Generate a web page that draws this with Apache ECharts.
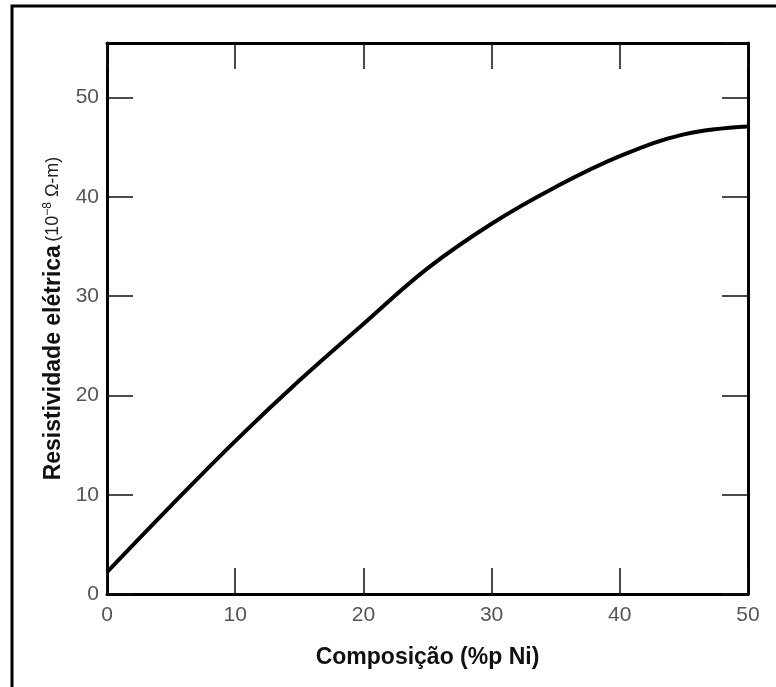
<!DOCTYPE html>
<html lang="pt">
<head>
    <meta http-equiv="content-type" content="text/html; charset=utf-8" />
    <script type="text/javascript" src="https://cdn.jsdelivr.net/npm/echarts@6/dist/echarts.min.js"></script>
    <title>Resistividade elétrica x Composição</title>
    <style>
        html, body { margin: 0; padding: 0; background: #fff; }
        #chart { width: 776px; height: 687px; }
    </style>
</head>
<body>
<div id="chart"></div>
<script type="text/javascript">
    // composição (%p Ni) e resistividade (10^-8 ohm-m)
    var composicao = [0, 5, 10, 15, 20, 25, 30, 35, 40, 45, 50];
    var resistividade = [2.2, 8.9, 15.4, 21.5, 27.2, 32.8, 37.3, 41.0, 44.1, 46.3, 47.1];

    var pontos = [];
    for (var i = 0; i < composicao.length; i++) {
        pontos.push([composicao[i], resistividade[i]]);
    }

    var fonte = '"Liberation Sans", Arial, sans-serif';
    var linhaEixo = { show: true, onZero: false, lineStyle: { color: '#000', width: 3 } };
    var marca = { show: true, inside: true, length: 26, lineStyle: { color: '#111', width: 1.5 } };
    var rotulo = { color: '#555', fontSize: 21, fontFamily: fonte };

    var chart = echarts.init(document.getElementById('chart'));
    chart.setOption({
        animation: false,
        backgroundColor: '#fff',
        grid: { left: 107, top: 43, right: 28, bottom: 93 },
        graphic: [{
            type: 'rect',
            shape: { x: 12, y: 6, width: 800, height: 800 },
            style: { fill: 'none', stroke: '#000', lineWidth: 3 }
        }],
        xAxis: [{
            type: 'value', min: 0, max: 50, interval: 10,
            axisLine: linhaEixo, axisTick: marca, splitLine: { show: false },
            axisLabel: Object.assign({ margin: 11 }, rotulo),
            name: 'Composição (%p Ni)', nameLocation: 'middle', nameGap: 52,
            nameTextStyle: { color: '#111', fontSize: 23, fontWeight: 'bold', fontFamily: fonte }
        }, {
            type: 'value', position: 'top', min: 0, max: 50, interval: 10,
            axisLine: linhaEixo, axisTick: marca, splitLine: { show: false },
            axisLabel: { show: false }
        }],
        yAxis: [{
            type: 'value', min: 0, max: 55.5, interval: 10,
            axisLine: linhaEixo, axisTick: marca, splitLine: { show: false },
            axisLabel: Object.assign({ margin: 8, showMaxLabel: false }, rotulo),
            name: '{b|Resistividade elétrica} {s|(10}{e|−8}{s| Ω-m)}',
            nameLocation: 'middle', nameGap: 41, nameRotate: 90,
            nameTextStyle: {
                rich: {
                    b: { color: '#111', fontSize: 23, fontWeight: 'bold', fontFamily: fonte },
                    s: { color: '#222', fontSize: 18, fontFamily: fonte },
                    e: { color: '#222', fontSize: 12, fontFamily: fonte, verticalAlign: 'top', padding: [0, 0, 8, 0] }
                }
            }
        }, {
            type: 'value', position: 'right', min: 0, max: 55.5, interval: 10,
            axisLine: linhaEixo, axisTick: marca, splitLine: { show: false },
            axisLabel: { show: false }
        }],
        series: [{
            type: 'line',
            data: pontos,
            smooth: 0.4,
            showSymbol: false,
            clip: false,
            lineStyle: { color: '#000', width: 4 }
        }]
    });
</script>
</body>
</html>
